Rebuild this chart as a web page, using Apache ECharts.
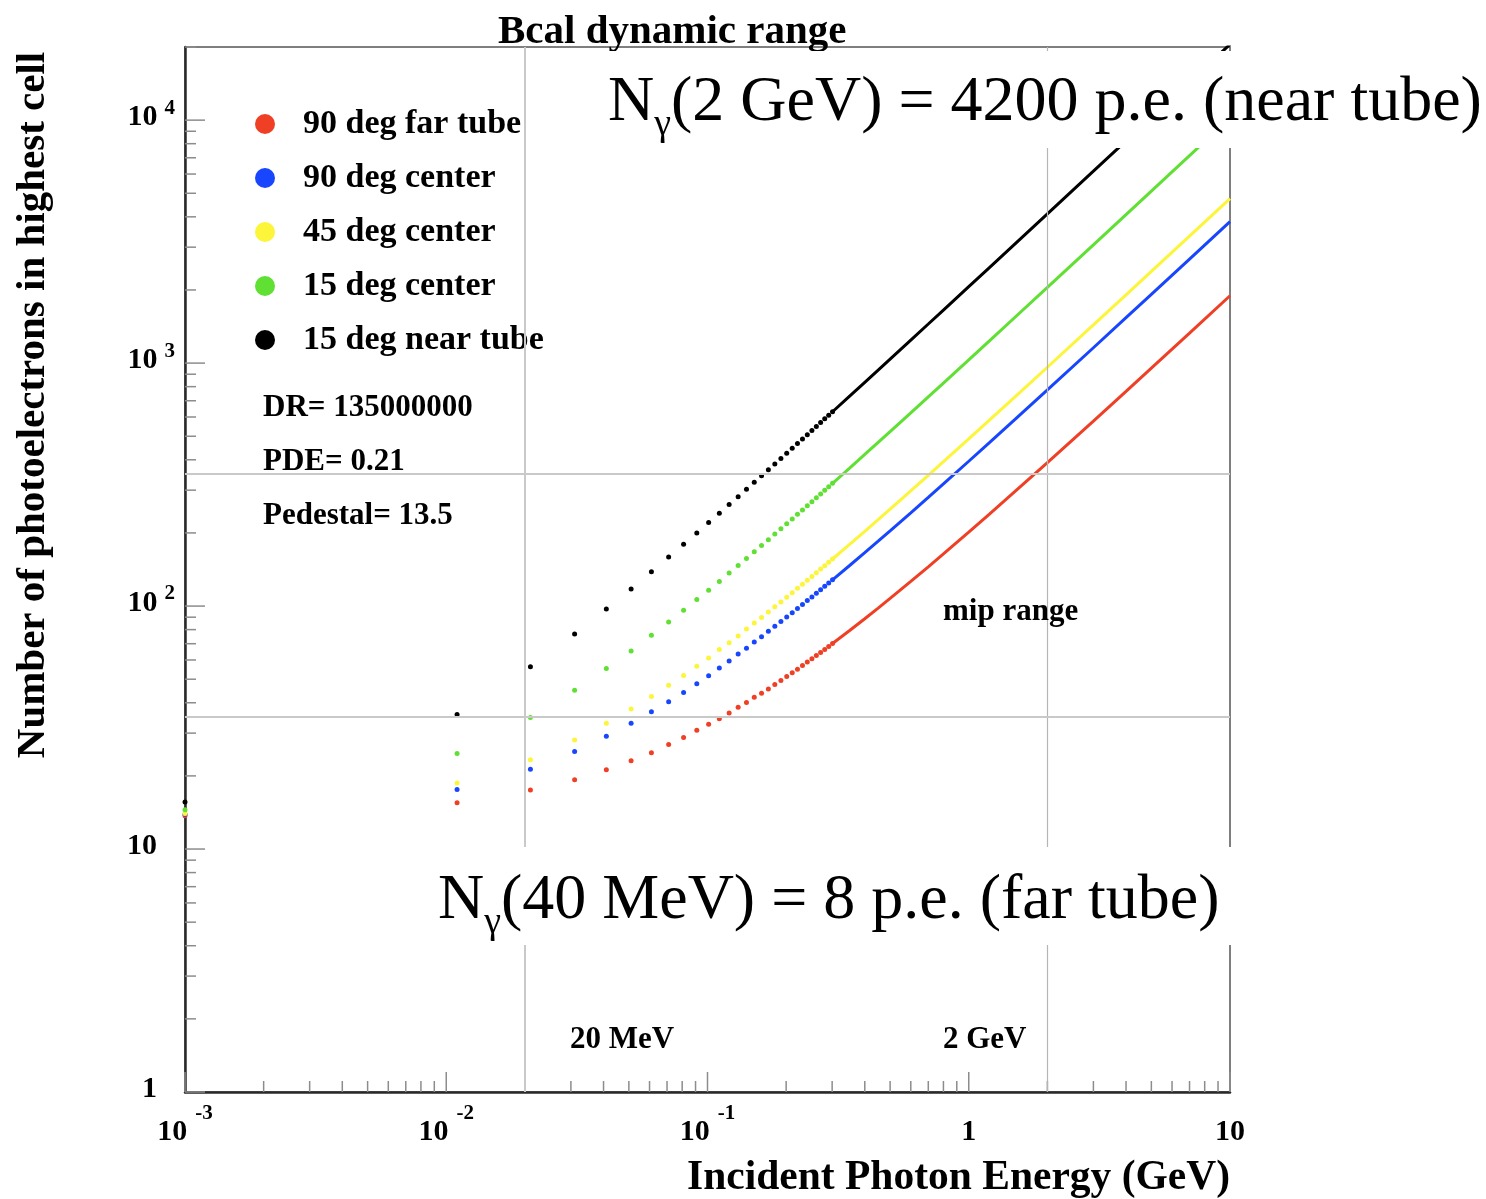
<!DOCTYPE html>
<html><head><meta charset="utf-8">
<script src="https://cdn.jsdelivr.net/npm/echarts@6/dist/echarts.min.js"></script>
<style>html,body{margin:0;padding:0;background:#fff}#c{width:1486px;height:1199px}</style>
</head><body><div id="c"></div>
<script>
// ---------- data ----------
const seriesNames = ['90 deg far tube', '90 deg center', '45 deg center', '15 deg center', '15 deg near tube'];
const seriesColors = ['#ef4026', '#1846ff', '#fcf53a', '#5fe033', '#000000'];

// energies (GeV) of the individually visible points
const dotEnergy = [0.001, 0.011, 0.021, 0.031, 0.041, 0.051, 0.061, 0.071, 0.081, 0.091,
  0.101, 0.111, 0.121, 0.131, 0.141, 0.151, 0.161, 0.171, 0.181, 0.191,
  0.201, 0.211, 0.221, 0.231, 0.241, 0.251, 0.261, 0.271, 0.281, 0.291, 0.301];

const farTube90Dots = [13.7, 15.5, 17.5, 19.3, 21.2, 23.1, 24.9, 26.9, 28.8, 30.8,
  32.6, 34.4, 36.3, 38.3, 40.1, 42.1, 43.8, 45.6, 47.5, 49.4,
  51.3, 53.2, 55.0, 56.9, 58.8, 60.7, 62.6, 64.4, 66.3, 68.2, 70.1];
const center90Dots = [13.9, 17.6, 21.3, 25.2, 29.1, 32.9, 36.7, 40.4, 44.1, 47.9,
  51.7, 55.6, 59.4, 63.5, 67.0, 71.1, 74.8, 78.7, 82.5, 86.3,
  90.1, 93.9, 97.7, 101.5, 105.3, 109.1, 112.9, 116.8, 120.6, 124.4, 128.2];
const center45Dots = [14.0, 18.7, 23.3, 28.1, 32.9, 37.7, 42.4, 47.2, 51.8, 56.6,
  61.1, 66.2, 70.7, 75.3, 80.5, 85.2, 89.8, 94.6, 99.3, 104.0,
  108.8, 113.5, 118.3, 123.0, 127.7, 132.5, 137.2, 142.0, 146.7, 151.4, 156.2];
const center15Dots = [14.5, 24.7, 34.8, 45.0, 55.3, 65.3, 75.8, 86.0, 96.1, 106.3,
  116.2, 126.2, 136.7, 146.9, 157.0, 167.2, 177.4, 187.6, 197.8, 207.9,
  218.1, 228.3, 238.5, 248.7, 258.8, 269.0, 279.2, 289.4, 299.6, 309.7, 319.9];
const nearTube15Dots = [15.6, 35.8, 56.3, 76.7, 97.3, 117.6, 138.6, 159.1, 179.6, 200.1,
  220.6, 241.1, 261.6, 282.1, 302.6, 323.1, 343.6, 364.1, 384.6, 405.1,
  425.6, 446.1, 466.6, 487.1, 507.6, 528.1, 548.6, 569.1, 589.6, 610.1, 630.6];

// energies (GeV) where the dense part (merged points) was read
const lineEnergy = [0.301, 0.35, 0.4, 0.45, 0.5, 0.6, 0.7, 0.8, 1, 1.2, 1.5, 2, 3, 4, 5, 7, 10];
const farTube90Line = [70.1, 79.3, 88.7, 98.1, 107.5, 126.3, 145.1, 163.9, 201.5, 239.1, 295.5, 389.5, 577.5, 765.5, 953.5, 1329.5, 1893.5];
const center90Line = [128.2, 146.9, 165.9, 185.0, 204.0, 242.1, 280.2, 318.3, 394.5, 470.7, 585.0, 775.5, 1156.5, 1537.5, 1918.5, 2680.5, 3823.5];
const center45Line = [156.2, 179.4, 203.1, 226.8, 250.5, 297.9, 345.3, 392.7, 487.5, 582.3, 724.5, 961.5, 1435.5, 1909.5, 2383.5, 3331.5, 4753.5];
const center15Line = [319.9, 369.8, 420.7, 471.6, 522.5, 624.3, 726.1, 827.9, 1031.5, 1235.1, 1540.5, 2049.5, 3067.5, 4085.5, 5103.5, 7139.5, 10193.5];
const nearTube15Line = [630.6, 731.0, 833.5, 936.0, 1038.5, 1243.5, 1448.5, 1653.5, 2063.5, 2473.5, 3088.5, 4113.5, 6163.5, 8213.5, 10263.5, 14363.5, 20513.5];

const dotSets = [farTube90Dots, center90Dots, center45Dots, center15Dots, nearTube15Dots];
const lineSets = [farTube90Line, center90Line, center45Line, center15Line, nearTube15Line];

// reference lines: 20 MeV, 2 GeV ; 35 and 350 p.e.
const refEnergyLines = [0.02, 2];
const refCountLines = [35, 350];

// axis ranges and tick grid
const xRange = [0.001, 10];
const yRange = [1, 20000];
const xTickDecades = [-3, -2, -1, 0, 1];
const yTickDecades = [0, 1, 2, 3, 4];
const tickMultipliers = [1, 2, 3, 4, 5, 6, 7, 8, 9];

// ---------- build ----------
const FONT = '"Liberation Serif", "Times New Roman", serif';
function isDecade(v) { const l = Math.log10(v); return Math.abs(l - Math.round(l)) < 1e-9; }

const tickData = [];
xTickDecades.forEach(d => tickMultipliers.forEach(m => {
  const v = m * Math.pow(10, d);
  if (v <= xRange[1] * 1.0000001) tickData.push([v, yRange[0], 0]);
}));
yTickDecades.forEach(d => tickMultipliers.forEach(m => {
  const v = m * Math.pow(10, d);
  if (v <= yRange[1] * 1.0000001) tickData.push([xRange[0], v, 1]);
}));

function expLabel(v, plainSuffix) {
  if (!isDecade(v)) return '';
  const e = Math.round(Math.log10(v));
  if (e === 0) return '{b|1}' + plainSuffix;
  if (e === 1) return '{b|10}' + plainSuffix;
  return '{b|10}{e|' + e + '}';
}

const series = [];
seriesNames.forEach((name, i) => {
  const s = {
    name: name,
    type: 'scatter',
    symbol: 'circle',
    symbolSize: 5,
    itemStyle: { color: seriesColors[i], opacity: 1 },
    data: dotEnergy.map((e, k) => [e, dotSets[i][k]]),
    z: 3
  };
  if (i === 0) {
    s.markLine = {
      silent: true,
      symbol: ['none', 'none'],
      label: { show: false },
      animation: false,
      lineStyle: { color: '#c9c9c9', width: 2, type: 'solid' },
      data: refEnergyLines.map((v, j) => ({
        xAxis: v,
        lineStyle: j === 1 ? { color: '#b5b5b5', width: 1.2, type: 'solid' } : { color: '#c9c9c9', width: 2, type: 'solid' }
      })).concat(refCountLines.map(v => ({ yAxis: v })))
    };
  }
  series.push(s);
});
seriesNames.forEach((name, i) => {
  series.push({
    name: name,
    type: 'line',
    showSymbol: false,
    symbol: 'none',
    smooth: false,
    clip: true,
    lineStyle: { color: seriesColors[i], width: 3 },
    itemStyle: { color: seriesColors[i] },
    data: lineEnergy.map((e, k) => [e, lineSets[i][k]]),
    z: 3
  });
});
series.push({
  type: 'custom',
  silent: true,
  encode: { x: 0, y: 1 },
  data: tickData,
  z: 4,
  renderItem: function (params, api) {
    const kind = api.value(2);
    if (kind === 0) {
      const v = api.value(0);
      const p = api.coord([v, yRange[0]]);
      const len = isDecade(v) ? 20 : 11;
      return { type: 'line', shape: { x1: p[0], y1: p[1], x2: p[0], y2: p[1] - len }, style: { stroke: '#8c8c8c', lineWidth: 1.5 } };
    }
    const v = api.value(1);
    const p = api.coord([xRange[0], v]);
    const len = isDecade(v) ? 20 : 11;
    return { type: 'line', shape: { x1: p[0], y1: p[1], x2: p[0] + len, y2: p[1] }, style: { stroke: '#8c8c8c', lineWidth: 1.5 } };
  }
});

const chart = echarts.init(document.getElementById('c'), null, { renderer: 'canvas' });
chart.setOption({
  animation: false,
  backgroundColor: '#fff',
  title: {
    text: 'Bcal dynamic range',
    left: 498, top: 10, padding: 0,
    textStyle: { fontFamily: FONT, fontWeight: 'bold', fontSize: 41, color: '#000', lineHeight: 44 }
  },
  legend: {
    orient: 'vertical',
    left: 255, top: 107, padding: 0,
    itemWidth: 66, itemHeight: 20, itemGap: 20,
    icon: 'circle',
    selectedMode: false,
    itemStyle: { opacity: 1 },
    textStyle: { fontFamily: FONT, fontWeight: 'bold', fontSize: 34, color: '#000', lineHeight: 30 },
    data: seriesNames.map(n => ({ name: n, icon: 'circle' }))
  },
  grid: {
    left: 185, top: 47, width: 1045, height: 1045,
    show: true, borderColor: '#555', borderWidth: 1.5, backgroundColor: 'transparent'
  },
  xAxis: {
    type: 'log', logBase: 10, min: xRange[0], max: xRange[1],
    splitLine: { show: false },
    axisTick: { show: false },
    minorTick: { show: false },
    axisLine: { show: true, lineStyle: { color: '#2a2a2a', width: 2.5 } },
    axisLabel: {
      margin: 25,
      formatter: v => expLabel(v, ''),
      rich: {
        b: { fontFamily: FONT, fontWeight: 'bold', fontSize: 30, color: '#000', lineHeight: 30, padding: [14, 0, 14, 0] },
        e: { fontFamily: FONT, fontWeight: 'bold', fontSize: 21, color: '#000', lineHeight: 21, padding: [0, 0, 36, 8] }
      }
    }
  },
  yAxis: {
    type: 'log', logBase: 10, min: yRange[0], max: yRange[1],
    splitLine: { show: false },
    axisTick: { show: false },
    minorTick: { show: false },
    axisLine: { show: true, lineStyle: { color: '#2a2a2a', width: 2.5 } },
    axisLabel: {
      margin: 10,
      padding: [0, 0, 6, 0],
      formatter: v => expLabel(v, '{s| }'),
      rich: {
        b: { fontFamily: FONT, fontWeight: 'bold', fontSize: 30, color: '#000', lineHeight: 30 },
        e: { fontFamily: FONT, fontWeight: 'bold', fontSize: 21, color: '#000', lineHeight: 21, padding: [0, 0, 18, 7] },
        s: { fontSize: 21, width: 18, lineHeight: 21 }
      }
    }
  },
  series: series,
  graphic: [
    { type: 'text', x: 33, y: 405, rotation: Math.PI / 2, z: 10,
      style: { text: 'Number of photoelectrons in highest cell', font: 'bold 41px ' + FONT, fill: '#000', align: 'center', verticalAlign: 'middle' } },
    { type: 'text', x: 1230, y: 1178, z: 10,
      style: { text: 'Incident Photon Energy (GeV)', font: 'bold 41.5px ' + FONT, fill: '#000', align: 'right', verticalAlign: 'middle' } },
    { type: 'text', x: 263, y: 408, z: 10,
      style: { text: 'DR= 135000000', font: 'bold 31px ' + FONT, fill: '#000', align: 'left', verticalAlign: 'middle' } },
    { type: 'text', x: 263, y: 462, z: 10,
      style: { text: 'PDE= 0.21', font: 'bold 31px ' + FONT, fill: '#000', align: 'left', verticalAlign: 'middle' } },
    { type: 'text', x: 263, y: 516, z: 10,
      style: { text: 'Pedestal= 13.5', font: 'bold 31px ' + FONT, fill: '#000', align: 'left', verticalAlign: 'middle' } },
    { type: 'text', x: 943, y: 612, z: 10,
      style: { text: 'mip range', font: 'bold 31px ' + FONT, fill: '#000', align: 'left', verticalAlign: 'middle' } },
    { type: 'text', x: 570, y: 1040, z: 10,
      style: { text: '20 MeV', font: 'bold 31px ' + FONT, fill: '#000', align: 'left', verticalAlign: 'middle' } },
    { type: 'text', x: 943, y: 1040, z: 10,
      style: { text: '2 GeV', font: 'bold 31px ' + FONT, fill: '#000', align: 'left', verticalAlign: 'middle' } },
    { type: 'rect', z: 100, shape: { x: 600, y: 51, width: 886, height: 97 }, style: { fill: '#fff' } },
    { type: 'rect', z: 100, shape: { x: 428, y: 847, width: 812, height: 98 }, style: { fill: '#fff' } },
    { type: 'text', x: 608, y: 103, z: 101,
      style: {
        text: '{n|N}{g|γ}{t|(2 GeV) = 4200 p.e. (near tube)}',
        fill: '#000', align: 'left', verticalAlign: 'middle',
        rich: {
          n: { fontFamily: FONT, fontSize: 64, color: '#000' },
          g: { fontFamily: FONT, fontSize: 38, color: '#000', padding: [44, 0, 0, 0] },
          t: { fontFamily: FONT, fontSize: 64, color: '#000' }
        }
      } },
    { type: 'text', x: 438, y: 901, z: 101,
      style: {
        text: '{n|N}{g|γ}{t|(40 MeV) = 8 p.e. (far tube)}',
        fill: '#000', align: 'left', verticalAlign: 'middle',
        rich: {
          n: { fontFamily: FONT, fontSize: 64, color: '#000' },
          g: { fontFamily: FONT, fontSize: 38, color: '#000', padding: [44, 0, 0, 0] },
          t: { fontFamily: FONT, fontSize: 64, color: '#000' }
        }
      } }
  ]
});
</script>
</body></html>
